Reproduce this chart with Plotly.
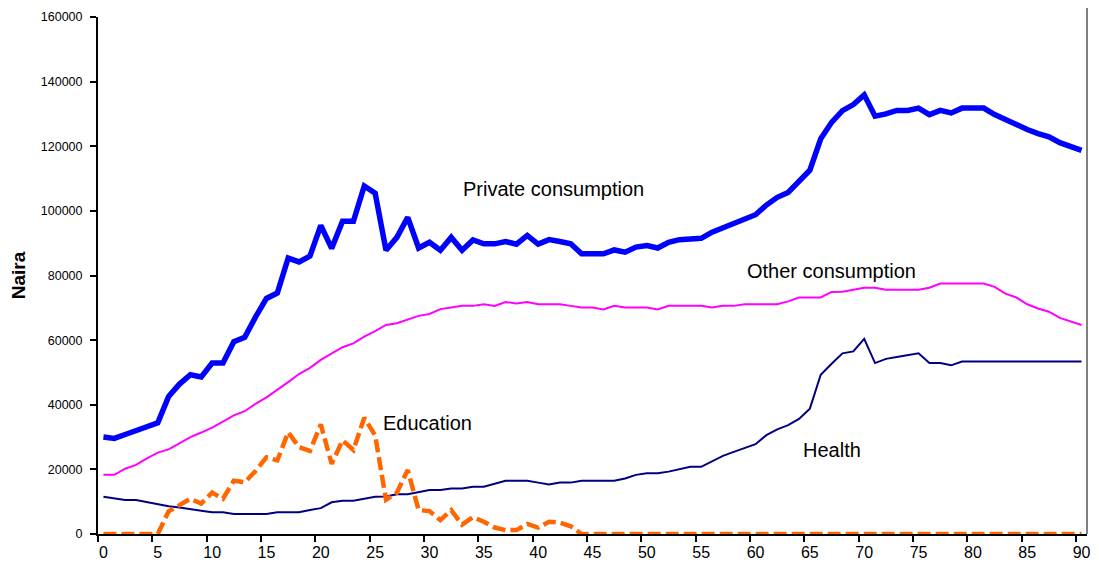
import plotly.graph_objects as go

ages = list(range(91))

private_consumption = [
    30.0, 29.6, 30.8, 31.9, 33.1, 34.4, 42.6, 46.4, 49.3, 48.6,
    52.9, 52.9, 59.5, 60.9, 67.2, 72.9, 74.6, 85.4, 84.2, 86.0,
    95.5, 88.4, 96.8, 96.8, 107.7, 105.5, 87.8, 91.8, 98.0, 88.5,
    90.3, 87.8, 91.8, 87.8, 91.0, 89.8, 89.8, 90.5, 89.7, 92.4,
    89.7, 91.1, 90.5, 89.8, 86.7, 86.7, 86.7, 87.9, 87.2, 88.8,
    89.3, 88.5, 90.3, 91.1, 91.5, 91.5, 93.4, 94.8, 95.9, 97.7,
    98.8, 101.8, 104.2, 105.7, 109.0, 112.6, 122.3, 127.4, 131.0, 132.9,
    135.9, 129.3, 130.0, 131.1, 131.1, 131.8, 129.8, 131.1, 130.3, 131.8,
    131.8, 131.8, 129.8, 128.2, 127.0, 125.2, 123.9, 122.9, 121.1, 120.1,
    118.7,
]

other_consumption = [
    18.3, 18.3, 20.2, 21.4, 23.4, 25.2, 26.2, 28.2, 30.0, 31.4,
    32.9, 34.8, 36.7, 38.0, 40.3, 42.3, 44.6, 47.0, 49.5, 51.4,
    53.9, 55.9, 57.8, 59.0, 61.1, 62.8, 64.7, 65.2, 66.4, 67.5,
    68.1, 69.6, 70.1, 70.6, 70.6, 71.1, 70.6, 71.8, 71.3, 71.8,
    71.1, 71.1, 71.1, 70.6, 70.1, 70.1, 69.5, 70.6, 70.1, 70.1,
    70.1, 69.5, 70.6, 70.6, 70.6, 70.6, 70.1, 70.6, 70.6, 71.1,
    71.1, 71.1, 71.1, 72.0, 73.2, 73.2, 73.2, 74.9, 75.0, 75.6,
    76.2, 76.2, 75.6, 75.6, 75.6, 75.6, 76.2, 77.5, 77.5, 77.5,
    77.5, 77.5, 76.5, 74.4, 73.2, 71.1, 69.8, 68.8, 66.9, 65.9,
    64.7,
]

health = [
    11.5, 11.1, 10.5, 10.5, 9.8, 9.1, 8.6, 8.2, 7.8, 7.2,
    6.7, 6.7, 6.2, 6.2, 6.2, 6.2, 6.7, 6.7, 6.7, 7.4,
    8.0, 9.8, 10.3, 10.3, 11.0, 11.5, 11.6, 12.3, 12.3, 13.0,
    13.6, 13.6, 14.1, 14.1, 14.6, 14.6, 15.6, 16.5, 16.5, 16.5,
    15.9, 15.3, 15.9, 15.9, 16.5, 16.5, 16.5, 16.5, 17.2, 18.3,
    18.8, 18.8, 19.3, 20.1, 20.8, 20.8, 22.6, 24.2, 25.4, 26.7,
    27.8, 30.6, 32.4, 33.7, 35.6, 38.8, 49.3, 52.7, 55.9, 56.5,
    60.4, 52.9, 54.2, 54.8, 55.3, 55.9, 52.9, 52.9, 52.2, 53.4,
    53.4, 53.4, 53.4, 53.4, 53.4, 53.4, 53.4, 53.4, 53.4, 53.4,
    53.4,
]

education = [
    0, 0, 0, 0, 0, 0, 7.0, 8.8, 10.9, 9.4,
    12.8, 10.9, 16.5, 16.0, 19.5, 23.7, 22.8, 31.5, 26.9, 25.7,
    33.9, 21.7, 29.0, 26.0, 36.0, 30.5, 10.6, 12.8, 19.8, 7.4,
    7.1, 4.3, 7.4, 2.9, 5.2, 3.8, 2.0, 1.2, 1.2, 3.1,
    2.0, 3.8, 3.5, 2.4, 0, 0, 0, 0, 0, 0,
    0, 0, 0, 0, 0, 0, 0, 0, 0, 0,
    0, 0, 0, 0, 0, 0, 0, 0, 0, 0,
    0, 0, 0, 0, 0, 0, 0, 0, 0, 0,
    0, 0, 0, 0, 0, 0, 0, 0, 0, 0,
    0,
]

labels = ["Private consumption", "Other consumption", "Education", "Health"]
label_x = [41.4, 67.0, 29.8, 67.0]
label_y = [106900, 81400, 34300, 26000]

x_ticks = list(range(0, 91, 5))
y_ticks = list(range(0, 160001, 20000))

FONT = "Arial, Liberation Sans, sans-serif"


def scale(vals):
    return [v * 1000 for v in vals]


fig = go.Figure()
fig.add_trace(go.Scatter(x=ages, y=scale(other_consumption), mode="lines",
                         line=dict(color="#FF00FF", width=2), name="Other consumption"))
fig.add_trace(go.Scatter(x=ages, y=scale(health), mode="lines",
                         line=dict(color="#000080", width=2), name="Health"))
fig.add_trace(go.Scatter(x=ages, y=scale(education), mode="lines",
                         line=dict(color="#FF6600", width=4.5, dash="13px,5px"), name="Education"))
fig.add_trace(go.Scatter(x=ages, y=scale(private_consumption), mode="lines",
                         line=dict(color="#0000FF", width=5.5), name="Private consumption"))

for t, x, y in zip(labels, label_x, label_y):
    fig.add_annotation(x=x, y=y, text=t, showarrow=False, xanchor="center", yanchor="middle",
                       font=dict(family=FONT, size=20, color="#000000"))

fig.add_shape(type="line", xref="paper", yref="paper", x0=1, x1=1, y0=0, y1=1.02,
              line=dict(color="#808080", width=2))

# The page body adds an offset; the figure is sized to fit the 1099x580 window.
fig.update_layout(
    width=1085, height=564,
    margin=dict(l=90, r=2, t=6, b=38, pad=0),
    paper_bgcolor="white", plot_bgcolor="white",
    showlegend=False,
    font=dict(family=FONT, color="#000000"),
    xaxis=dict(
        range=[-0.5, 90.5], tickmode="array", tickvals=x_ticks,
        ticks="", showgrid=False, zeroline=False,
        showline=True, linecolor="#000000", linewidth=2,
        tickfont=dict(family=FONT, size=16, color="#000000"),
        ticklabeloverflow="allow", ticklabelstandoff=3,
        minor=dict(tickmode="linear", tick0=-0.5, dtick=5, ticks="outside",
                   ticklen=6, tickwidth=2, tickcolor="#000000", showgrid=False),
    ),
    yaxis=dict(
        range=[0, 160000], tickmode="array", tickvals=y_ticks, tickformat="d",
        ticks="outside", ticklen=6, tickwidth=2, tickcolor="#000000",
        showgrid=False, zeroline=False,
        showline=True, linecolor="#000000", linewidth=2,
        tickfont=dict(family=FONT, size=12.5, color="#000000"),
        ticklabeloverflow="allow", ticklabelstandoff=5,
        title=dict(text="<b>Naira</b>", font=dict(family=FONT, size=19, color="#000000"),
                   standoff=12),
    ),
)

fig.write_html("out.html")
